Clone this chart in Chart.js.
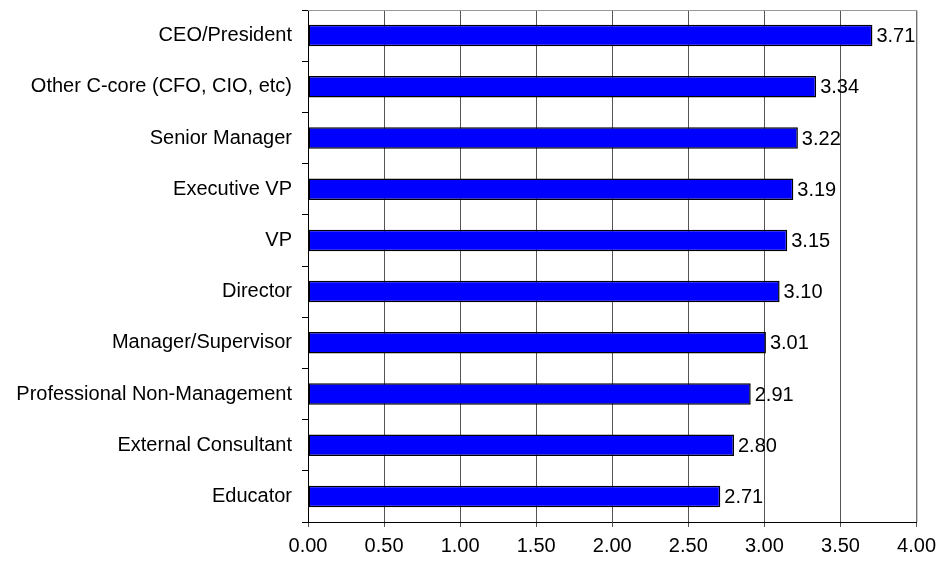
<!DOCTYPE html>
<html>
<head>
<meta charset="utf-8">
<script src="https://cdn.jsdelivr.net/npm/chart.js@4/dist/chart.umd.min.js"></script>
<style>
  html, body { margin: 0; padding: 0; background: #fff; }
  #wrap { width: 943px; height: 563px; }
</style>
</head>
<body>
<div id="wrap"><canvas id="chart" width="943" height="563"></canvas></div>
<script>
// ── Data ──
const categories = [
  "CEO/President",
  "Other C-core (CFO, CIO, etc)",
  "Senior Manager",
  "Executive VP",
  "VP",
  "Director",
  "Manager/Supervisor",
  "Professional Non-Management",
  "External Consultant",
  "Educator",
];
const scores = [3.71, 3.34, 3.22, 3.19, 3.15, 3.10, 3.01, 2.91, 2.80, 2.71];
const xTicks = [0, 0.5, 1, 1.5, 2, 2.5, 3, 3.5, 4];

const FONT = "'Liberation Sans', Arial, sans-serif";
Chart.defaults.font.family = FONT;
Chart.defaults.font.size = 20;
Chart.defaults.color = "#000";

// value labels to the right of each bar + grey top/right frame
const barLabels = {
  id: "barLabels",
  afterDatasetsDraw(chart) {
    const ctx = chart.ctx;
    const meta = chart.getDatasetMeta(0);
    ctx.save();
    ctx.font = "20px " + FONT;
    ctx.fillStyle = "#000";
    ctx.textBaseline = "middle";
    ctx.textAlign = "left";
    meta.data.forEach((bar, i) => {
      ctx.fillText(scores[i].toFixed(2), bar.x + 4, bar.y + 1);
    });
    const a = chart.chartArea;
    ctx.strokeStyle = "#999";
    ctx.lineWidth = 1;
    ctx.beginPath();
    ctx.moveTo(a.left, a.top + 0.5);
    ctx.lineTo(a.right + 0.5, a.top + 0.5);
    ctx.lineTo(a.right + 0.5, a.bottom);
    ctx.stroke();
    ctx.restore();
  },
};

new Chart(document.getElementById("chart"), {
  type: "bar",
  data: {
    labels: categories,
    datasets: [{
      data: scores,
      backgroundColor: "#0000FF",
      borderColor: "#000",
      borderWidth: 1.5,
      borderSkipped: false,
      barPercentage: 0.42,
      categoryPercentage: 1,
    }],
  },
  options: {
    indexAxis: "y",
    responsive: false,
    animation: false,
    layout: { padding: { top: 10, right: 25, left: 0, bottom: 0 } },
    plugins: { legend: { display: false }, tooltip: { enabled: false } },
    scales: {
      x: {
        min: 0,
        max: 4,
        afterBuildTicks: (s) => { s.ticks = xTicks.map((v) => ({ value: v })); },
        afterFit: (s) => { s.height = 41; },
        ticks: { callback: (v) => Number(v).toFixed(2), padding: 7, maxRotation: 0 },
        grid: { color: "#555", tickColor: "#555", tickLength: 5 },
        border: { color: "#000", width: 1 },
      },
      y: {
        afterFit: (s) => { s.width = 308; s.paddingTop = 0; s.paddingBottom = 0; },
        ticks: { padding: 10 },
        grid: { offset: true, drawOnChartArea: false, color: "#000", tickLength: 6 },
        border: { color: "#000", width: 1 },
      },
    },
  },
  plugins: [barLabels],
});
</script>
</body>
</html>
